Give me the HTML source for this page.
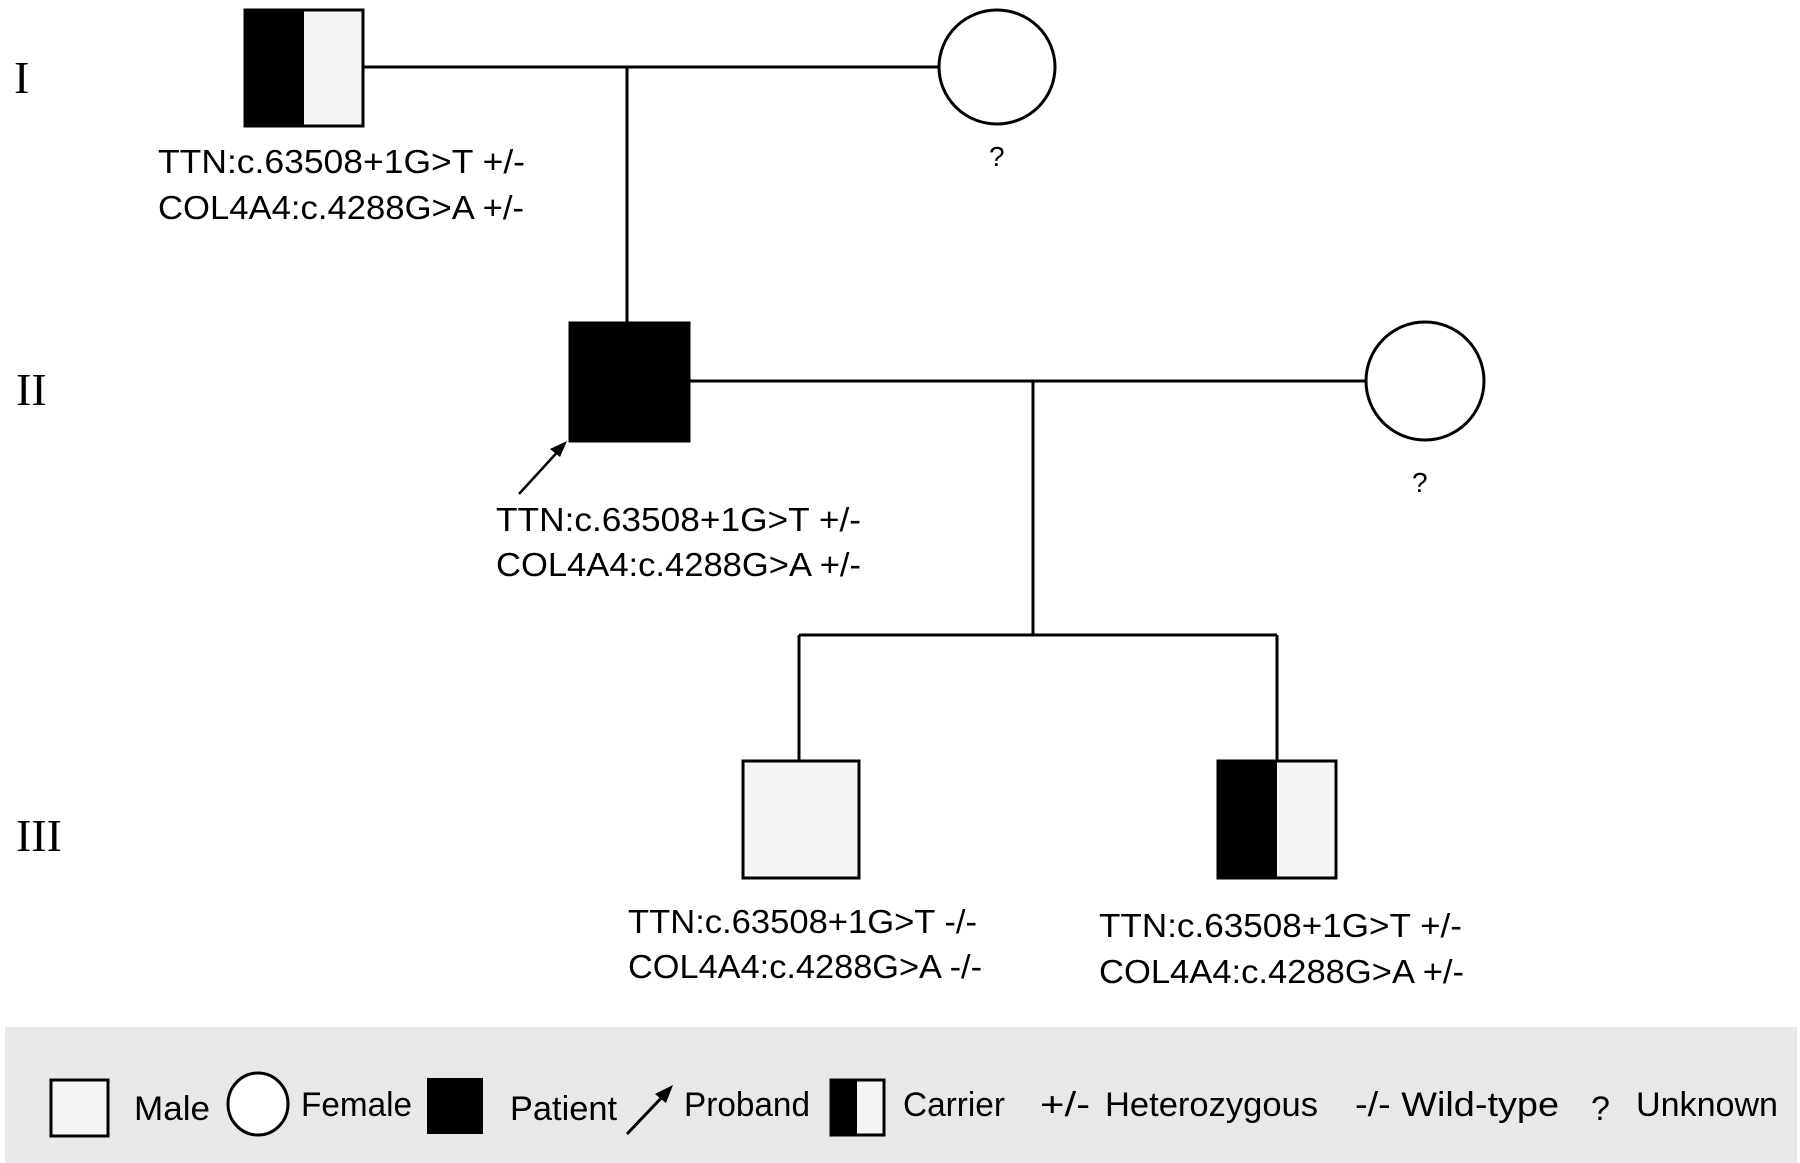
<!DOCTYPE html>
<html><head><meta charset="utf-8"><style>
html,body{margin:0;padding:0;background:#fff;}
svg{display:block;}
text{font-family:"Liberation Sans",sans-serif;fill:#000;}
.r{font-family:"Liberation Serif",serif;font-size:46px;}
.t{font-size:33px;}
.l{font-size:34px;}
.q{font-size:28px;}
</style></head><body>
<svg width="1800" height="1163" viewBox="0 0 1800 1163" xmlns="http://www.w3.org/2000/svg">
<rect width="1800" height="1163" fill="#fff"/>
<g stroke="#000" stroke-width="3" fill="none">
<line x1="363" y1="67" x2="939" y2="67"/>
<line x1="627" y1="67" x2="627" y2="324"/>
<line x1="689" y1="381" x2="1366" y2="381"/>
<line x1="1033" y1="381" x2="1033" y2="635"/>
<line x1="799" y1="635" x2="1277" y2="635"/>
<line x1="799" y1="635" x2="799" y2="761"/>
<line x1="1277" y1="635" x2="1277" y2="761"/>
</g>
<rect x="245" y="10" width="118" height="116" fill="#f5f5f5" stroke="#000" stroke-width="3"/>
<rect x="245" y="10" width="59" height="116" fill="#000"/>
<ellipse cx="997" cy="67" rx="58" ry="57" fill="#fff" stroke="#000" stroke-width="3"/>
<text x="989" y="166" class="q">?</text>
<rect x="570" y="323" width="119" height="118" fill="#000" stroke="#000" stroke-width="3"/>
<ellipse cx="1425" cy="381" rx="59" ry="59" fill="#fff" stroke="#000" stroke-width="3"/>
<text x="1412" y="492" class="q">?</text>
<line x1="519" y1="494" x2="562" y2="447" stroke="#000" stroke-width="2.5"/>
<path d="M567 441 L550 449 L560 457 Z" fill="#000"/>
<rect x="743" y="761" width="116" height="117" fill="#f5f5f5" stroke="#000" stroke-width="3"/>
<rect x="1218" y="761" width="118" height="117" fill="#f5f5f5" stroke="#000" stroke-width="3"/>
<rect x="1218" y="761" width="59" height="117" fill="#000"/>
<text x="14" y="93" class="r">I</text>
<text x="16" y="405" class="r">II</text>
<text x="16" y="851" class="r">III</text>
<g class="t">
<text x="158" y="173" textLength="367" lengthAdjust="spacingAndGlyphs">TTN:c.63508+1G&gt;T +/-</text>
<text x="158" y="219" textLength="366" lengthAdjust="spacingAndGlyphs">COL4A4:c.4288G&gt;A +/-</text>
<text x="496" y="531" textLength="365" lengthAdjust="spacingAndGlyphs">TTN:c.63508+1G&gt;T +/-</text>
<text x="496" y="576" textLength="365" lengthAdjust="spacingAndGlyphs">COL4A4:c.4288G&gt;A +/-</text>
<text x="628" y="933" textLength="349" lengthAdjust="spacingAndGlyphs">TTN:c.63508+1G&gt;T -/-</text>
<text x="628" y="978" textLength="354" lengthAdjust="spacingAndGlyphs">COL4A4:c.4288G&gt;A -/-</text>
<text x="1099" y="937" textLength="363" lengthAdjust="spacingAndGlyphs">TTN:c.63508+1G&gt;T +/-</text>
<text x="1099" y="983" textLength="365" lengthAdjust="spacingAndGlyphs">COL4A4:c.4288G&gt;A +/-</text>
</g>
<rect x="5" y="1027" width="1792" height="136" fill="#e8e8e8"/>
<rect x="51" y="1080" width="57" height="56" fill="#f5f5f5" stroke="#000" stroke-width="3"/>
<text x="134" y="1120" class="l" textLength="76" lengthAdjust="spacingAndGlyphs">Male</text>
<ellipse cx="258" cy="1104" rx="30" ry="31" fill="#fff" stroke="#000" stroke-width="3"/>
<text x="301" y="1116" class="l" textLength="111" lengthAdjust="spacingAndGlyphs">Female</text>
<rect x="427" y="1078" width="56" height="56" fill="#000"/>
<text x="510" y="1120" class="l" textLength="107" lengthAdjust="spacingAndGlyphs">Patient</text>
<line x1="627" y1="1134" x2="666" y2="1093" stroke="#000" stroke-width="3"/>
<path d="M673 1085 L655 1094 L666 1103 Z" fill="#000"/>
<text x="684" y="1116" class="l" textLength="126" lengthAdjust="spacingAndGlyphs">Proband</text>
<rect x="831" y="1080" width="53" height="55" fill="#f5f5f5" stroke="#000" stroke-width="3"/>
<rect x="831" y="1080" width="26" height="55" fill="#000"/>
<text x="903" y="1116" class="l" textLength="102" lengthAdjust="spacingAndGlyphs">Carrier</text>
<text x="1040" y="1116" class="l" textLength="50" lengthAdjust="spacingAndGlyphs">+/-</text>
<text x="1105" y="1116" class="l" textLength="213" lengthAdjust="spacingAndGlyphs">Heterozygous</text>
<text x="1355" y="1116" class="l" textLength="204" lengthAdjust="spacingAndGlyphs">-/- Wild-type</text>
<text x="1591" y="1120" class="l">?</text>
<text x="1636" y="1116" class="l" textLength="142" lengthAdjust="spacingAndGlyphs">Unknown</text>
</svg>
</body></html>
